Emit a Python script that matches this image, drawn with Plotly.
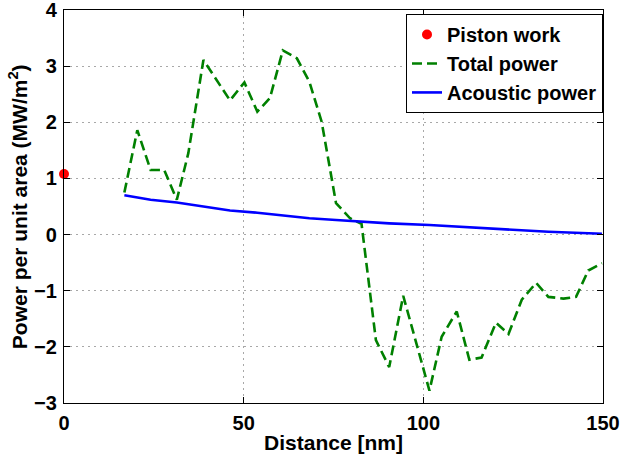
import plotly.graph_objects as go

# Data
piston_x = [0]
piston_y = [1.08]

total_x = [16.8, 20.4, 24.1, 27.9, 31.4, 34.6, 38.8, 46.2, 50.2, 53.8, 57.3, 60.9,
           64.8, 68.3, 71.7, 75.7, 79.6, 82.8, 86.8, 90.5, 94.4, 101.7, 105.1,
           109.3, 112.8, 116.2, 120.2, 123.7, 127.4, 131.4, 134.8, 139.0, 142.5,
           145.9, 149.7]
total_y = [0.75, 1.86, 1.15, 1.15, 0.62, 1.45, 3.11, 2.39, 2.71, 2.19, 2.43, 3.28,
           3.14, 2.72, 2.01, 0.56, 0.29, 0.19, -1.88, -2.36, -1.09, -2.78, -1.82,
           -1.37, -2.23, -2.19, -1.57, -1.77, -1.16, -0.86, -1.11, -1.14, -1.11,
           -0.64, -0.51]

acoustic_x = [16.8, 24.1, 31.4, 38.8, 46.2, 53.8, 60.9, 68.3, 75.7, 82.8, 90.5,
              101.7, 112.8, 123.7, 134.8, 149.7]
acoustic_y = [0.70, 0.62, 0.57, 0.50, 0.43, 0.39, 0.34, 0.29, 0.26, 0.23, 0.20,
              0.17, 0.13, 0.085, 0.05, 0.015]

x_ticks = [0, 50, 100, 150]
y_ticks = [-3, -2, -1, 0, 1, 2, 3, 4]

FONT = "Liberation Sans, Arial, sans-serif"

fig = go.Figure()
fig.add_trace(go.Scatter(x=piston_x, y=piston_y, mode="markers", name="Piston work",
                         marker=dict(color="#ff0000", size=10), cliponaxis=False))
fig.add_trace(go.Scatter(x=total_x, y=total_y, mode="lines", name="Total power",
                         line=dict(color="#008000", width=2.6, dash="10px,5px")))
fig.add_trace(go.Scatter(x=acoustic_x, y=acoustic_y, mode="lines", name="Acoustic power",
                         line=dict(color="#0000ff", width=2.6)))

axis_common = dict(
    showline=True, linecolor="black", linewidth=1.2, mirror="ticks",
    ticks="inside", ticklen=6, tickcolor="black", tickwidth=1.2,
    showgrid=True, gridcolor="#a8a8a8", griddash="2px,4px", gridwidth=1,
    zeroline=False, automargin=False, ticklabeloverflow="allow",
    tickfont=dict(family=FONT, size=20, color="black", weight="bold"),
)

fig.update_layout(
    width=623, height=460,
    margin=dict(l=64, r=20, t=10, b=57),
    paper_bgcolor="white", plot_bgcolor="white",
    font=dict(family=FONT, color="black"),
    xaxis=dict(range=[0, 150], tickvals=x_ticks, ticklabelstandoff=2,
               title=dict(text="<b>Distance [nm]</b>", standoff=2,
                          font=dict(family=FONT, size=21, color="black", weight="bold")),
               **axis_common),
    yaxis=dict(range=[-3, 4], tickvals=y_ticks, ticklabelstandoff=2, **axis_common),
    annotations=[dict(text="<b>Power per unit area (MW/m<sup>2</sup>)</b>",
                      xref="paper", yref="paper", x=-0.086, y=0.5,
                      xanchor="center", yanchor="middle", textangle=-90,
                      showarrow=False,
                      font=dict(family=FONT, size=21, color="black", weight="bold"))],
    legend=dict(x=1, xanchor="right", y=0.99, yanchor="top",
                bgcolor="white", bordercolor="black", borderwidth=1,
                font=dict(family=FONT, size=20, color="black", weight="bold"),
                tracegroupgap=0, itemwidth=30),
    showlegend=True,
)

fig.write_html("out.html", config={"displayModeBar": False},
               post_script="document.body.style.margin='0';document.body.style.overflow='hidden';")
